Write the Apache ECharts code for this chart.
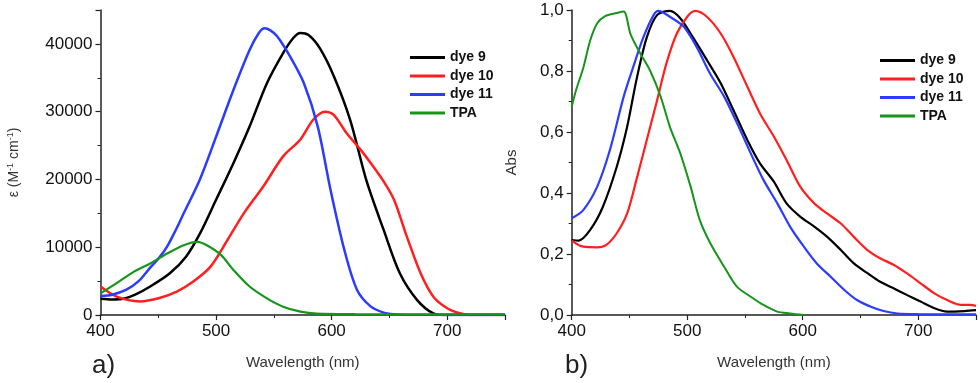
<!DOCTYPE html>
<html>
<head>
<meta charset="utf-8">
<script src="https://cdn.jsdelivr.net/npm/echarts@6/dist/echarts.min.js"></script>
<style>html,body{margin:0;padding:0;background:#fff}#c{width:980px;height:383px}</style>
</head>
<body>
<div id="c"></div>
<script>
// ---- Panel a) molar extinction coefficient ----
const aDye9X  = [400,410,420,430,443,460,474,486,500,515,529,544,558,567,573,580,590,602,616,630,645,659,674,688,700,750];
const aDye9Y  = [2400,2300,2400,3000,4200,6150,8600,12000,17000,22400,27800,34200,38650,40900,41600,41300,39300,35200,28800,19900,12550,6150,2200,250,0,0];
const aDye10X = [400,414,434,451,466,480,495,510,524,541,558,573,584,594,602,613,625,636,645,654,665,677,688,700,711,720,750];
const aDye10Y = [4200,2700,2000,2500,3450,4900,7100,11100,15000,19000,23400,25900,28800,30000,29500,26800,24400,21900,19700,17000,11600,6150,2700,1000,250,0,0];
const aDye11X = [400,410,422,433,443,451,458,465,472,486,500,515,529,537,542,547,553,564,576,588,599,611,622,634,645,654,665,750];
const aDye11Y = [2800,3000,3700,5000,7000,8500,10200,12500,15000,20000,26300,33200,39100,41600,42300,42000,41100,38150,34200,27800,18500,9600,3700,1230,350,100,0,0];
const aTpaX   = [400,414,429,443,458,472,484,492,504,515,529,544,558,573,587,620,700,750];
const aTpaY   = [3200,4700,6400,7600,9100,10300,10800,10300,8900,6650,4200,2460,1230,500,200,120,100,100];

// ---- Panel b) normalised absorbance ----
const bDye9X  = [400,406,416,427,439,448,456,465,474,485,494,505,517,529,540,552,563,575,586,598,610,621,633,644,656,667,679,690,702,714,725,740,750];
const bDye9Y  = [0.246,0.244,0.279,0.355,0.486,0.617,0.77,0.91,0.984,0.997,0.973,0.91,0.836,0.76,0.672,0.574,0.497,0.437,0.366,0.322,0.29,0.257,0.213,0.17,0.137,0.109,0.087,0.066,0.044,0.022,0.011,0.013,0.016];
const bDye10X = [400,410,422,430,439,448,456,465,474,482,491,500,507,517,529,540,552,563,575,586,598,610,621,633,644,656,667,679,690,702,714,725,737,745,750];
const bDye10Y = [0.244,0.224,0.222,0.23,0.268,0.333,0.443,0.574,0.705,0.825,0.923,0.978,0.997,0.978,0.923,0.847,0.749,0.661,0.585,0.508,0.42,0.366,0.333,0.30,0.257,0.213,0.186,0.164,0.137,0.104,0.071,0.049,0.033,0.033,0.03];
const bDye11X = [400,410,422,433,445,453,462,471,475,485,497,508,520,532,543,555,566,578,589,601,612,624,636,647,659,670,682,700,750];
const bDye11Y = [0.317,0.344,0.42,0.54,0.716,0.81,0.91,0.984,0.997,0.978,0.945,0.88,0.79,0.716,0.63,0.53,0.443,0.366,0.29,0.224,0.17,0.126,0.082,0.049,0.027,0.013,0.005,0.003,0.002];
const bTpaX   = [400,404,410,416,422,429,439,445,451,459,468,477,485,494,503,511,520,532,543,555,566,578,589,601];
const bTpaY   = [0.683,0.74,0.81,0.90,0.956,0.98,0.99,0.995,0.92,0.86,0.80,0.716,0.617,0.53,0.42,0.31,0.235,0.158,0.093,0.06,0.033,0.011,0.005,0.0];

const seriesNames = ['dye 9','dye 10','dye 11','TPA'];
const seriesColors = ['#000000','#ff1f1f','#2b3cff','#16951a'];
const yTicksB = ['0,0','0,2','0,4','0,6','0,8','1,0'];

function pairs(xs, ys){ return xs.map((x,i)=>[x, ys[i]]); }

const chart = echarts.init(document.getElementById('c'), null, {renderer:'canvas'});
const font = 'Liberation Sans, Arial, sans-serif';
const axisColor = '#222';

function xAxis(gi){
  return {
    type:'value', gridIndex:gi, min:400, max:750, interval:100,
    name:'Wavelength (nm)', nameLocation:'middle', nameGap:40,
    nameTextStyle:{fontFamily:font, fontSize:15, color:'#333'},
    axisLine:{onZero:false, lineStyle:{color:axisColor, width:1.5}},
    axisTick:{show:true, inside:false, length:5, lineStyle:{color:axisColor, width:1.2}},
    minorTick:{show:true, splitNumber:2, length:3, lineStyle:{color:axisColor, width:1}},
    splitLine:{show:false},
    axisLabel:{fontFamily:font, fontSize:17, color:'#111', margin:8, showMaxLabel:false, formatter:(v)=>String(v)}
  };
}

function line(name, xi, xs, ys, w){
  return {name:name, type:'line', xAxisIndex:xi, yAxisIndex:xi, data:pairs(xs,ys),
    smooth:0.3, showSymbol:false, lineStyle:{width:w}};
}

const option = {
  animation:false,
  backgroundColor:'#fff',
  color: seriesColors,
  grid:[
    {left:100.5, top:10, width:404.5, height:305},
    {left:571.7, top:10, width:404.3, height:305}
  ],
  xAxis:[xAxis(0), xAxis(1)],
  yAxis:[
    {
      type:'value', gridIndex:0, min:0, max:45000, interval:10000,
      name:'{a|ε (M}{s|-1}{a| cm}{s|-1}{a|)}', nameLocation:'middle', nameGap:78, nameRotate:90,
      nameTextStyle:{rich:{a:{fontFamily:font, fontSize:14, color:'#333'}, s:{fontFamily:font, fontSize:9, color:'#333', padding:[0,0,7,0]}}},
      axisLine:{show:true, lineStyle:{color:axisColor, width:1.5}},
      axisTick:{show:true, inside:false, length:5, lineStyle:{color:axisColor, width:1.2}},
      minorTick:{show:true, splitNumber:2, length:3, lineStyle:{color:axisColor, width:1}},
      splitLine:{show:false},
      axisLabel:{fontFamily:font, fontSize:17, color:'#111', margin:8, showMaxLabel:false, formatter:(v)=>String(v)}
    },
    {
      type:'value', gridIndex:1, min:0, max:1, interval:0.2,
      name:'Abs', nameLocation:'middle', nameGap:52, nameRotate:90,
      nameTextStyle:{fontFamily:font, fontSize:15, color:'#333'},
      axisLine:{show:true, lineStyle:{color:axisColor, width:1.5}},
      axisTick:{show:true, inside:false, length:5, lineStyle:{color:axisColor, width:1.2}},
      minorTick:{show:true, splitNumber:2, length:3, lineStyle:{color:axisColor, width:1}},
      splitLine:{show:false},
      axisLabel:{fontFamily:font, fontSize:17, color:'#111', margin:8,
        formatter:(v)=>yTicksB[Math.round(v*5)]}
    }
  ],
  legend:[
    {left:405, top:45.5, orient:'vertical', itemWidth:35, itemHeight:3, itemGap:4.5, icon:'rect',
     data:seriesNames, textStyle:{fontFamily:font, fontSize:14, fontWeight:'bold', color:'#111'}, selectedMode:false},
    {left:875, top:48.5, orient:'vertical', itemWidth:35, itemHeight:3, itemGap:4.5, icon:'rect',
     data:seriesNames, textStyle:{fontFamily:font, fontSize:14, fontWeight:'bold', color:'#111'}, selectedMode:false}
  ],
  graphic:[
    {type:'text', left:92, top:353, style:{text:'a)', font:'26px Liberation Sans, Arial, sans-serif', fill:'#222'}},
    {type:'text', left:565, top:353, style:{text:'b)', font:'26px Liberation Sans, Arial, sans-serif', fill:'#222'}}
  ],
  series:[
    line('dye 9', 0, aDye9X, aDye9Y, 2.5),
    line('dye 10', 0, aDye10X, aDye10Y, 2.5),
    line('dye 11', 0, aDye11X, aDye11Y, 2.5),
    line('TPA', 0, aTpaX, aTpaY, 2.2),
    line('dye 9', 1, bDye9X, bDye9Y, 2.2),
    line('dye 10', 1, bDye10X, bDye10Y, 2.2),
    line('dye 11', 1, bDye11X, bDye11Y, 2.2),
    line('TPA', 1, bTpaX, bTpaY, 2)
  ]
};
chart.setOption(option);
</script>
</body>
</html>
